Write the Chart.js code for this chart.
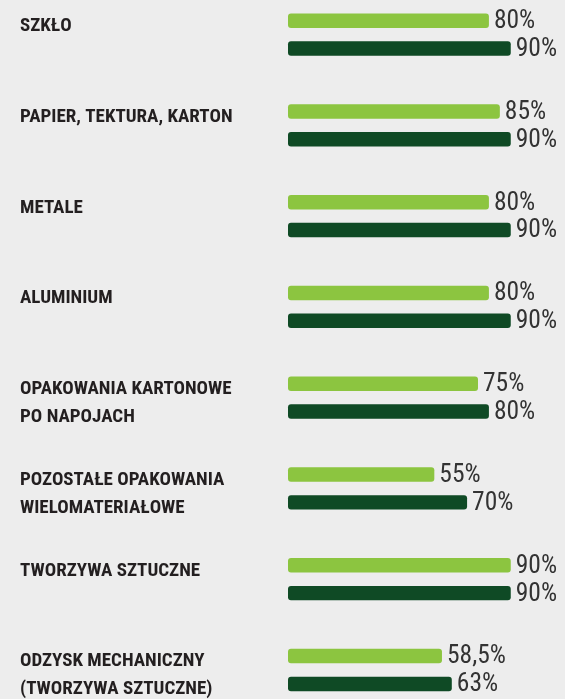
<!DOCTYPE html>
<html>
<head>
<meta charset="utf-8">
<script src="https://cdn.jsdelivr.net/npm/chart.js@4.4.1/dist/chart.umd.min.js"></script>
<style>
  html, body { margin: 0; padding: 0; background: #ededed; }
  #wrap { width: 565px; height: 699px; position: relative; }
</style>
</head>
<body>
<div id="wrap"><canvas id="c" width="565" height="699"></canvas></div>
<script>
const categories = [
  ["SZKŁO"],
  ["PAPIER, TEKTURA, KARTON"],
  ["METALE"],
  ["ALUMINIUM"],
  ["OPAKOWANIA KARTONOWE", "PO NAPOJACH"],
  ["POZOSTAŁE OPAKOWANIA", "WIELOMATERIAŁOWE"],
  ["TWORZYWA SZTUCZNE"],
  ["ODZYSK MECHANICZNY", "(TWORZYWA SZTUCZNE)"]
];
const lightValues = [80, 85, 80, 80, 75, 55, 90, 58.5];
const darkValues  = [90, 90, 90, 90, 80, 70, 90, 63];

const LIGHT = '#8cc540';
const DARK = '#0f4a25';
const XMIN = -12;
const NARROW = "'Liberation Sans Narrow', 'Roboto Condensed', 'DejaVu Sans Condensed', 'Liberation Sans', sans-serif";

const fmt = v => String(v).replace('.', ',') + '%';

const valueLabels = {
  id: 'valueLabels',
  afterDatasetsDraw(chart) {
    const ctx = chart.ctx;
    ctx.save();
    ctx.font = '25.5px ' + NARROW;
    ctx.fillStyle = '#333333';
    ctx.textAlign = 'left';
    ctx.textBaseline = 'middle';
    chart.data.datasets.forEach((ds, di) => {
      const meta = chart.getDatasetMeta(di);
      meta.data.forEach((el, i) => {
        ctx.fillText(fmt(ds.data[i]), el.x + 5, el.y + 1);
      });
    });
    ctx.restore();
  }
};

new Chart(document.getElementById('c'), {
  type: 'bar',
  data: {
    labels: categories.map(c => c.join(' ')),
    datasets: [
      { data: lightValues, backgroundColor: LIGHT, base: XMIN, borderRadius: 3, borderSkipped: false, clip: false },
      { data: darkValues, backgroundColor: DARK, base: XMIN, borderRadius: 3, borderSkipped: false, clip: false }
    ]
  },
  options: {
    indexAxis: 'y',
    responsive: false,
    animation: false,
    devicePixelRatio: 1,
    categoryPercentage: 0.6125,
    barPercentage: 0.52,
    layout: { padding: { left: 20, top: 34.6, bottom: 29, right: 32.4 } },
    plugins: { legend: { display: false }, tooltip: { enabled: false } },
    scales: {
      x: { display: false, min: XMIN, max: 100 },
      y: {
        offset: false,
        grid: { display: false },
        border: { display: false },
        afterFit: s => { s.width = 268; },
        ticks: {
          crossAlign: 'far',
          padding: 0,
          labelOffset: 5.7,
          color: '#231f20',
          font: { family: NARROW, size: 19, weight: 'bold', lineHeight: 28 / 19 },
          callback: (v, i) => categories[i].length === 1 ? [categories[i][0], ''] : categories[i]
        }
      }
    }
  },
  plugins: [valueLabels]
});
</script>
</body>
</html>
